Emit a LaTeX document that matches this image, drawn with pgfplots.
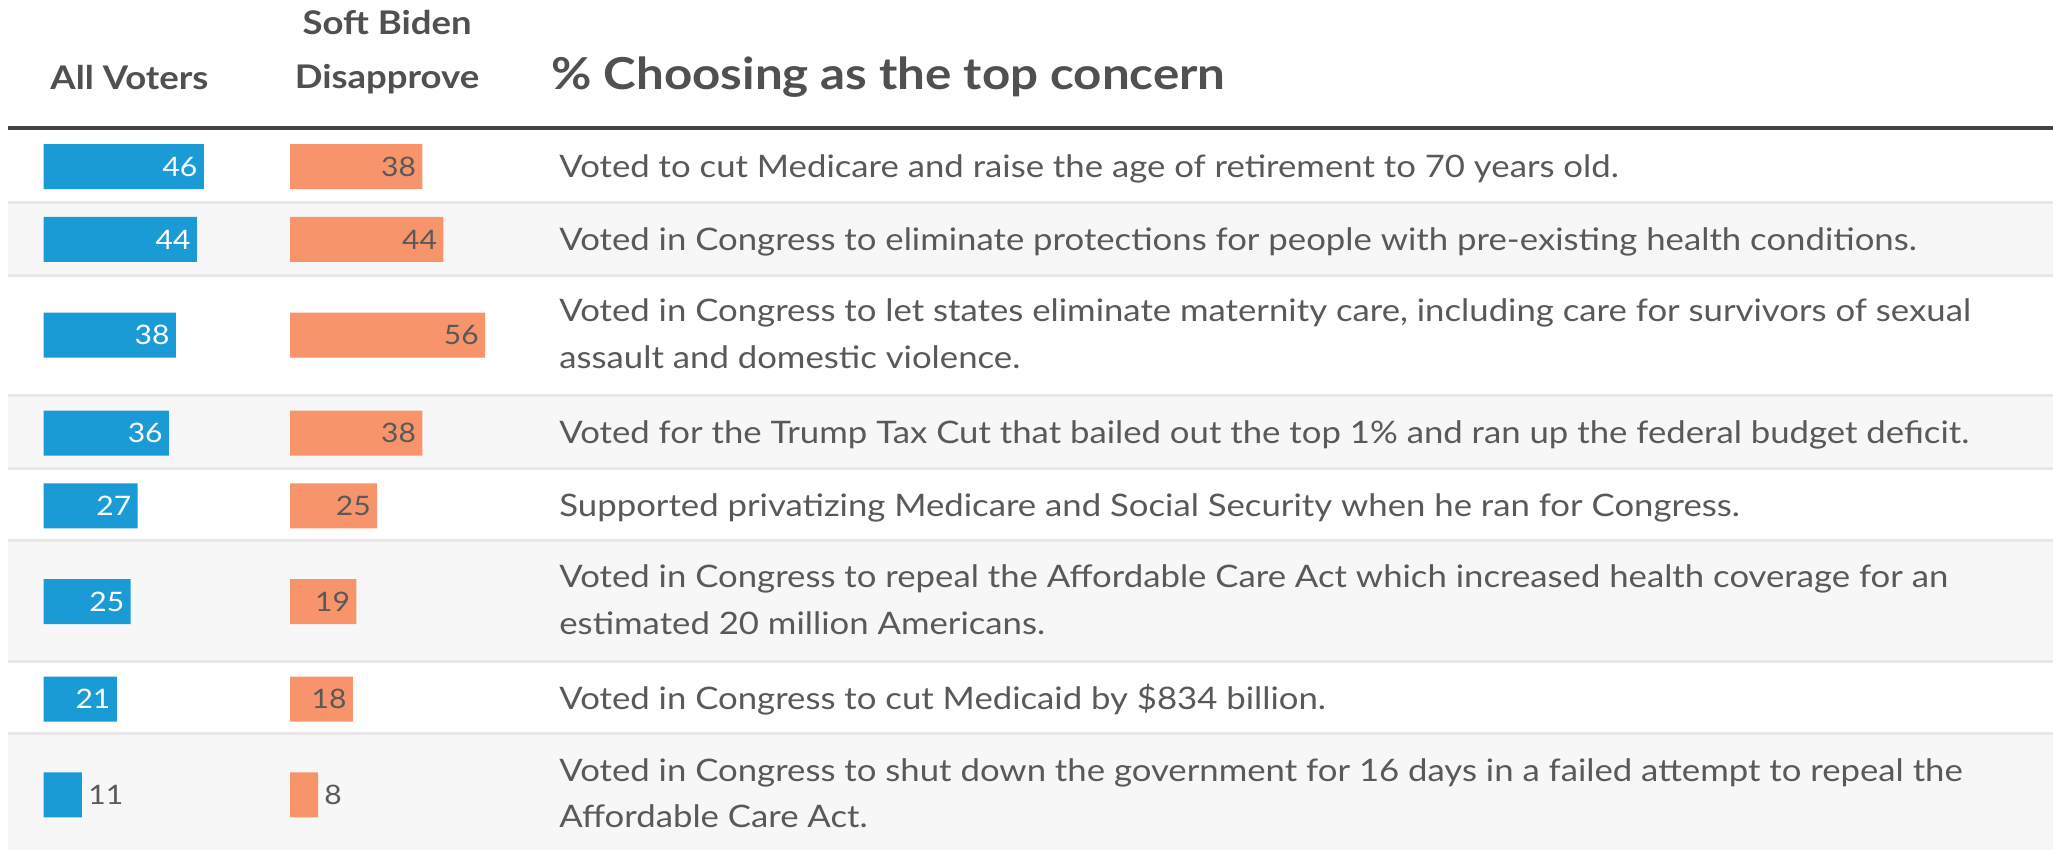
\documentclass[border=0pt]{standalone}
\usepackage{pgfplots}
\pgfplotsset{compat=1.18}
\usepackage{pgfplotstable}
\usepackage{fontspec}
\setmainfont{Lato}[FakeStretch=1.12]
\definecolor{barblue}{HTML}{1A9BD6}
\definecolor{barorange}{HTML}{F8946B}
\definecolor{txtgrey}{HTML}{595959}
\definecolor{hdrgrey}{HTML}{505050}
\definecolor{rowgrey}{HTML}{F7F7F7}
\definecolor{sepgrey}{HTML}{E8E8E8}
\definecolor{rulegrey}{HTML}{444444}

% y = row centre in pixels, v = percent, dx = label offset (negative: inside the bar)
\pgfplotstableread{
y v dx
166.7 46 -6
239.5 44 -6
335.2 38 -6
433.2 36 -6
505.8 27 -6
601.5 25 -6
699.2 21 -6
794.8 11 6
}\allvoters

\pgfplotstableread{
y v dx
166.7 38 -6
239.5 44 -6
335.2 56 -6
433.2 38 -6
505.8 25 -6
601.5 19 -6
699.2 18 -6
794.8 8 6
}\softbiden

\pgfplotsset{rowbars/.style={
  x=1.74pt, y=0.5pt, y dir=reverse, ymin=0, ymax=850,
  hide axis, clip=false, xbar, bar width=45,
  at={(0,0)}, anchor=south west,
  /pgf/number format/assume math mode=true,
  nodes near coords,
  visualization depends on={\thisrow{dx} \as \mydx},
  nodes near coords style={
    /utils/exec={\ifdim\mydx pt>0pt\def\myanc{west}\def\mytc{txtgrey}\else\def\myanc{east}\def\mytc{\inclr}\fi},
    anchor=\myanc, xshift=\mydx*0.5pt, text=\mytc,
    inner sep=0pt, font=\fontsize{13.4}{15}\selectfont},
}}

\newcommand{\bodyfont}{\fontsize{15.5}{18}\selectfont}
\newcommand{\hdrfont}{\fontsize{16.3}{19}\selectfont\bfseries}

\begin{document}
\begin{tikzpicture}
\begin{scope}[x=0.5pt,y=-0.5pt,shift={(0pt,425pt)}]
\useasboundingbox (0,0) rectangle (2053,850);
\fill[white] (0,0) rectangle (2053,850);
\fill[rowgrey] (8,202.7) rectangle (2053,275.7);
\fill[rowgrey] (8,396) rectangle (2053,468.3);
\fill[rowgrey] (8,540.7) rectangle (2053,661.7);
\fill[rowgrey] (8,734) rectangle (2053,850);
\foreach \yy in {202.7,275.7,396,468.3,540.7,661.7,734}
  \draw[sepgrey, line width=1.5pt] (8,\yy) -- (2053,\yy);
\draw[rulegrey, line width=2pt] (8,128) -- (2053,128);
% headers
\node[anchor=base west, inner sep=0pt, text=hdrgrey, font=\hdrfont] at (50,89.3) {All Voters};
\node[anchor=base, inner sep=0pt, text=hdrgrey, font=\hdrfont] at (387,35) {Soft Biden};
\node[anchor=base, inner sep=0pt, text=hdrgrey, font=\hdrfont] at (387,88.5) {Disapprove};
\node[anchor=base west, inner sep=0pt, text=hdrgrey, font=\fontsize{22}{26}\selectfont\bfseries] at (551,90) {\% Choosing as the top concern};
% row labels
\begin{scope}[every node/.style={anchor=base west, inner sep=0pt, text=txtgrey, font=\bodyfont}]
\node at (559,177.5) {Voted to cut Medicare and raise the age of retirement to 70 years old.};
\node at (559,250.3) {Voted in Congress to eliminate protections for people with pre-existing health conditions.};
\node at (559,321.7) {Voted in Congress to let states eliminate maternity care, including care for survivors of sexual};
\node at (559,368.3) {assault and domestic violence.};
\node at (559,444.0) {Voted for the Trump Tax Cut that bailed out the top 1\% and ran up the federal budget deficit.};
\node at (559,516.6) {Supported privatizing Medicare and Social Security when he ran for Congress.};
\node at (559,588.0) {Voted in Congress to repeal the Affordable Care Act which increased health coverage for an};
\node at (559,634.6) {estimated 20 million Americans.};
\node at (559,710.0) {Voted in Congress to cut Medicaid by \$834 billion.};
\node at (559,781.3) {Voted in Congress to shut down the government for 16 days in a failed attempt to repeal the};
\node at (559,827.9) {Affordable Care Act.};
\end{scope}
\end{scope}

\def\inclr{white}
\begin{axis}[rowbars, xmin=-12.557, xmax=577.38]
\addplot[xbar, fill=barblue, draw=none] table[x=v, y=y] {\allvoters};
\end{axis}
\def\inclr{txtgrey}
\begin{axis}[rowbars, xmin=-83.39, xmax=506.55]
\addplot[xbar, fill=barorange, draw=none] table[x=v, y=y] {\softbiden};
\end{axis}
\end{tikzpicture}
\end{document}
